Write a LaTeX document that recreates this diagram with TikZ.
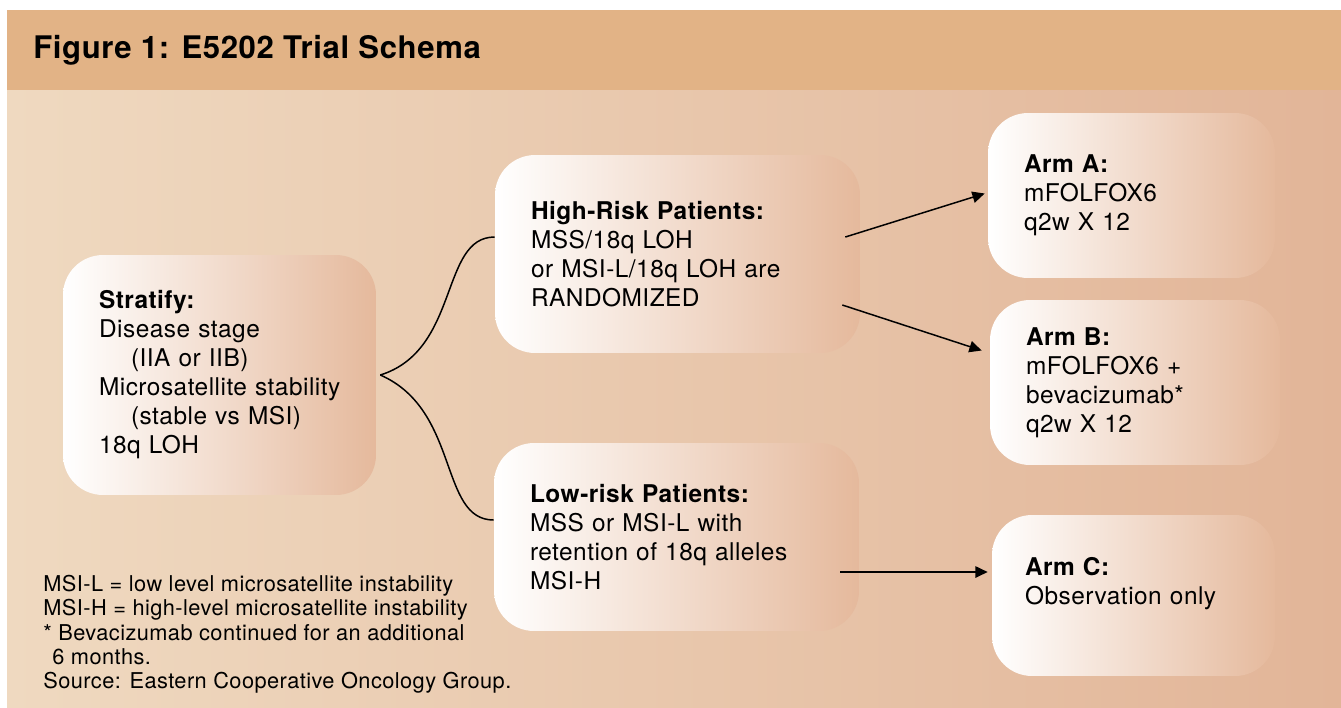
\documentclass[tikz,border=0pt]{standalone}
\usepackage{fontspec}
\setmainfont{TeX Gyre Heros}[LetterSpace=2]
\usetikzlibrary{calc,arrows.meta,positioning}
\definecolor{bandpeach}{RGB}{226,179,134}
\definecolor{bgleft}{RGB}{239,217,192}
\definecolor{bgright}{RGB}{226,181,152}
\definecolor{boxend}{RGB}{229,185,156}

\begin{document}
\begin{tikzpicture}[x=0.02cm, y=-0.02cm, slot/.style={rectangle, rounded corners=0.8cm, left color=white, right color=boxend, align=left, inner xsep=0.72cm, font=\fontsize{13.9}{16.5}\selectfont}, note/.style={align=left, anchor=north west, inner sep=0pt, font=\fontsize{12.4}{13.8}\selectfont}, link/.style={line width=0.85pt}, >={Triangle[length=7pt,width=6.5pt]}]
	\useasboundingbox (0,0) rectangle (1341,707);
	\fill[bandpeach] (7,10) rectangle (1341,90);
	\shade[left color=bgleft, right color=bgright] (7,90) rectangle (1341,707);
	\node[anchor=base west, inner sep=0pt, font=\fontsize{17.7}{20}\selectfont\bfseries] (title) at (33,58) {Figure 1: E5202 Trial Schema};

	\node[slot, text width=4.82cm, minimum height=4.8cm] (strat) at (219.5,375) {\textbf{Stratify:}\\ Disease stage\\ \hspace*{0.64cm}(IIA or IIB)\\ Microsatellite stability\\ \hspace*{0.64cm}(stable vs MSI)\\ 18q LOH};
	\node[slot, text width=5.86cm, minimum height=3.96cm] (hi) at (677.5,254) {\textbf{High-Risk Patients:}\\ MSS/18q LOH\\ or MSI-L/18q LOH are\\ RANDOMIZED};
	\node[slot, text width=5.86cm, minimum height=3.76cm] (lo) at (676.5,537) {\textbf{Low-risk Patients:}\\ MSS or MSI-L with\\ retention of 18q alleles\\ MSI-H};
	\node[slot, text width=4.3cm, minimum height=3.3cm] (armA) at (1131.5,195.5) {\textbf{Arm A:}\\ mFOLFOX6\\ q2w X 12};
	\node[slot, text width=4.36cm, minimum height=3.3cm] (armB) at (1135,382.5) {\textbf{Arm B:}\\ mFOLFOX6 +\\ bevacizumab*\\ q2w X 12};
	\node[slot, text width=4.34cm, minimum height=3.22cm, inner xsep=0.66cm] (armC) at (1133.5,595.5) {\textbf{Arm C:}\\ Observation only\\ \mbox{}};

	\node[note] (notes) at (43,575) {MSI-L = low level microsatellite instability\\ MSI-H = high-level microsatellite instability\\ * Bevacizumab continued for an additional\\ \hspace*{0.18cm}6 months.\\ Source: Eastern Cooperative Oncology Group.};

	% fork out of the stratification box
	\coordinate (fork) at ($(strat.east)+(4,0)$);
	\draw[link] (fork) .. controls +(80,-25) and +(-55,0) .. ($(hi.west)+(0,-17)$);
	\draw[link] (fork) .. controls +(80,35) and +(-55,0) .. ($(lo.west)+(0,-17)$);

	\draw[link, ->] ($(hi.east)+(-15,-17)$) -- ($(armA.west)+(-3,-2)$);
	\draw[link, ->] ($(hi.east)+(-18,51)$) -- ($(armB.west)+(-8,-32)$);
	\draw[link, ->] ($(lo.east)+(-19,35)$) -- ($(armC.west)+(-4,-23.5)$);
\end{tikzpicture}
\end{document}
